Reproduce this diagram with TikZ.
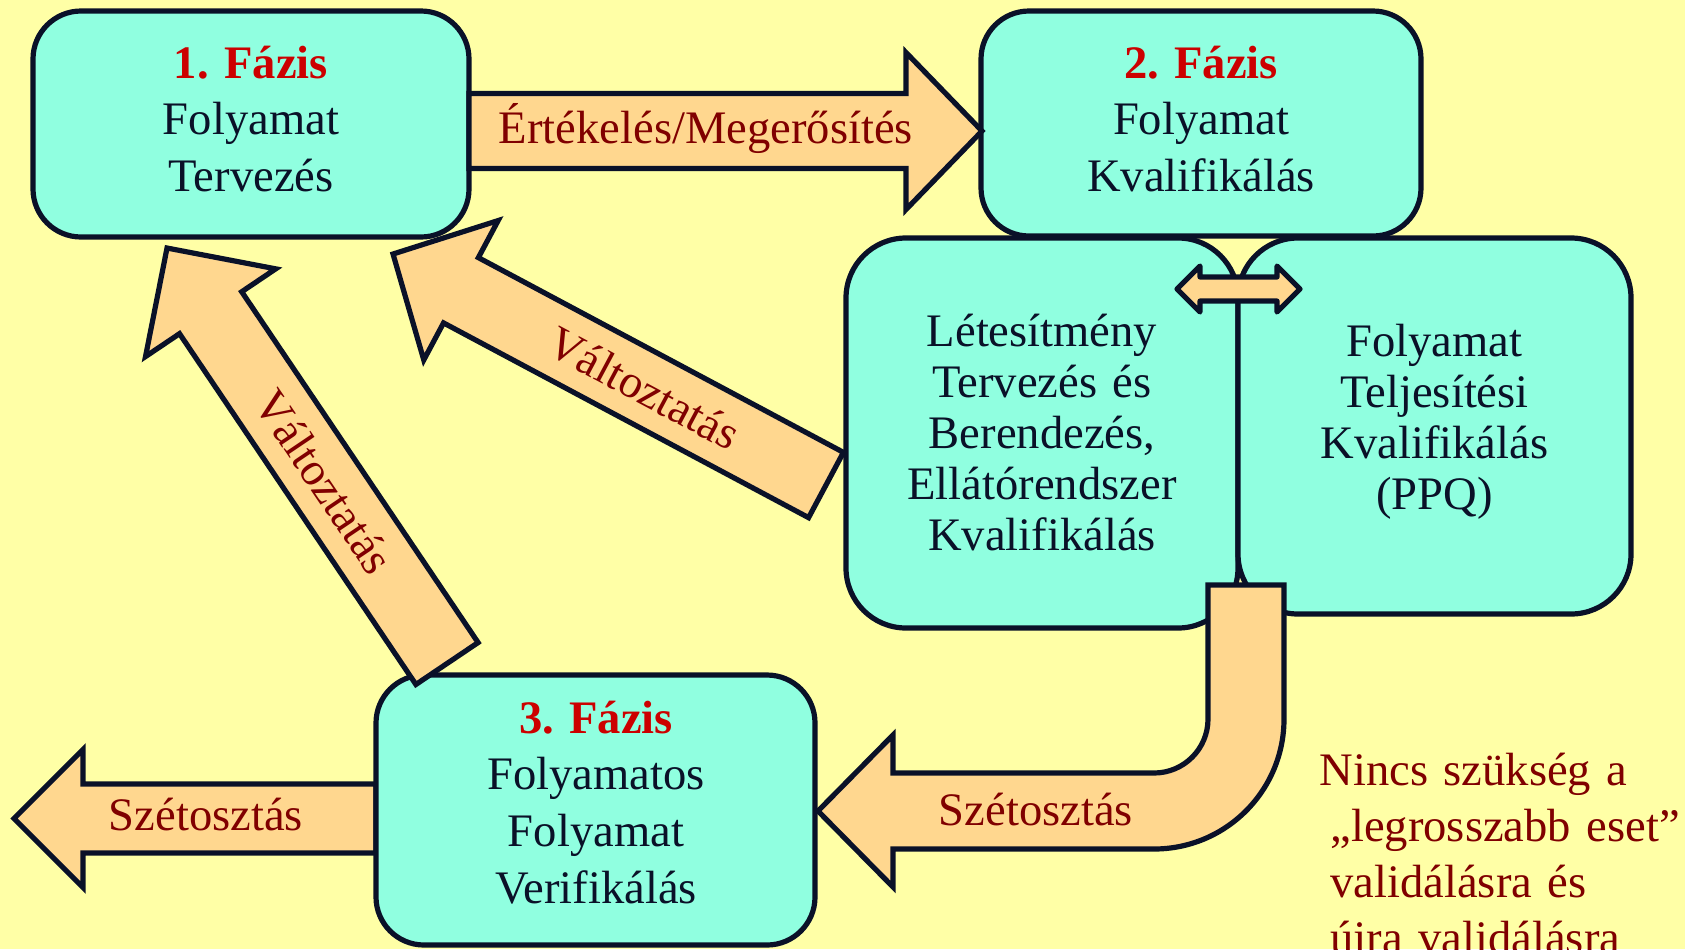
\documentclass[tikz,border=0pt]{standalone}
\usepackage{fontspec}
\setmainfont{Liberation Serif}
\usetikzlibrary{calc}

\definecolor{bgyellow}{RGB}{255,255,166}
\definecolor{boxaqua}{RGB}{144,255,224}
\definecolor{arroworange}{RGB}{255,215,143}
\definecolor{inkblue}{RGB}{10,17,40}
\definecolor{phasered}{RGB}{204,0,0}
\definecolor{labelred}{RGB}{128,0,0}

% block arrow from a named tail point to a named tip point
% #3 shaft width, #4 head width, #5 head length (picture units)
\newdimen\bax
\newdimen\bay
\newcommand\blockarrow[5]{%
  \pgfextractx{\bax}{\pgfpointdiff{\pgfpointanchor{#1}{center}}{\pgfpointanchor{#2}{center}}}%
  \pgfextracty{\bay}{\pgfpointdiff{\pgfpointanchor{#1}{center}}{\pgfpointanchor{#2}{center}}}%
  \pgfmathsetmacro\balen{2*veclen(\bax,\bay)}%
  \pgfmathsetmacro\baang{atan2(\bay,\bax)}%
  \begin{scope}[shift={(#1)},rotate=\baang]
    \draw[arrowbody] (0,{-#3/2}) -- ({\balen-#5},{-#3/2}) -- ({\balen-#5},{-#4/2})
      -- (\balen,0) -- ({\balen-#5},{#4/2}) -- ({\balen-#5},{#3/2}) -- (0,{#3/2}) -- cycle;
  \end{scope}}

\begin{document}
\begin{tikzpicture}[x=0.5pt,y=-0.5pt,
  box/.style={rectangle, draw=inkblue, fill=boxaqua, line width=2.6pt,
    rounded corners=#1, inner sep=0pt},
  box/.default=24pt,
  boxtext/.style={text=inkblue, font=\fontsize{23.3}{28.4}\selectfont,
    align=center, text width=200pt, anchor=base, inner sep=0pt},
  tighttext/.style={boxtext, font=\fontsize{23.3}{25.6}\selectfont},
  arrowlabel/.style={text=labelred, font=\fontsize{23.3}{28.2}\selectfont, inner sep=0pt},
  arrowbody/.style={draw=inkblue, fill=arroworange, line width=2.6pt, line join=miter},
  smallarrow/.style={draw=inkblue, fill=arroworange, line width=2.6pt, line join=round},
  notetext/.style={text=labelred, font=\fontsize{23.3}{28.1}\selectfont,
    align=left, text width=200pt, anchor=base west, inner sep=0pt}
]
\useasboundingbox (0,0) rectangle (1685,949);
\clip (0,0) rectangle (1685,949);
\fill[bgyellow] (0,0) rectangle (1685,949);

% qualification boxes under phase 2
\node[box=30pt, minimum width=196pt, minimum height=195pt] (iq) at (1042,433) {};
\node[box=30pt, minimum width=196.5pt, minimum height=188pt] (ppq) at (1434.5,426) {};

% phase boxes
\node[box, minimum width=220pt, minimum height=112.5pt] (ph2) at (1201,123.5) {};
\node[box, minimum width=218pt, minimum height=113pt] (ph1) at (251,124) {};

% distribution to the left (behind phase 3)
\coordinate (d1t) at (376,818.5);
\coordinate (d1h) at (14,818.5);
\blockarrow{d1t}{d1h}{69}{138}{69}

\node[box, minimum width=219.5pt, minimum height=135pt] (ph3) at (595.5,810) {};

% link between the two qualification boxes
\coordinate (dl) at (1177,289);
\coordinate (dr) at (1300,289);
\draw[smallarrow] (dl) -- ++(23,-23) -- ++(0,11) -- ++(77,0) -- ++(0,-11) -- (dr)
  -- ++(-23,23) -- ++(0,-11) -- ++(-77,0) -- ++(0,11) -- cycle;

% evaluation arrow phase 1 -> phase 2
\coordinate (a1t) at (469,131);
\coordinate (a1h) at (982,131);
\blockarrow{a1t}{a1h}{75}{157}{76}

% change arrows back to phase 1
\coordinate (a2t) at (826,485);
\coordinate (a2h) at (393,254);
\blockarrow{a2t}{a2h}{74}{158}{77}

\coordinate (a3t) at (447,663.5);
\coordinate (a3h) at (167,248);
\blockarrow{a3t}{a3h}{75}{157}{78}

% bent distribution arrow into phase 3
\coordinate (bt) at (818,811);
\draw[arrowbody] (1208,585) -- (1208,719) arc[start angle=0,end angle=-90,radius=27pt]
  -- (893,773) -- (893,735) -- (bt) -- (893,887) -- (893,849) -- (1154,849)
  arc[start angle=-90,end angle=0,radius=65pt] -- (1284,585) -- cycle;

% arrow labels
\node[arrowlabel, anchor=base] (l1) at (706,143) {Értékelés/Megerősítés};
\node[arrowlabel, rotate=-28.1] (l2) at ($(a2t)!0.42!(a2h)$) {Változtatás};
\node[arrowlabel, rotate=-56] (l3) at ($(a3t)!0.437!(a3h)$) {Változtatás};
\node[arrowlabel, anchor=base] (l4) at (206,830) {Szétosztás};
\node[arrowlabel, anchor=base] (l5) at (1036,825) {Szétosztás};

% box texts
\node[boxtext] (ph1t) at (251,78) {\textbf{\textcolor{phasered}{1.\ Fázis}}\\Folyamat\\Tervezés};
\node[boxtext] (ph2t) at (1201,78) {\textbf{\textcolor{phasered}{2.\ Fázis}}\\Folyamat\\Kvalifikálás};
\node[boxtext] (ph3t) at (596,733) {\textbf{\textcolor{phasered}{3.\ Fázis}}\\Folyamatos\\Folyamat\\Verifikálás};
\node[tighttext] (iqt) at (1042,346) {Létesítmény\\Tervezés és\\Berendezés,\\Ellátórendszer\\Kvalifikálás};
\node[tighttext] (ppqt) at (1434.5,356) {Folyamat\\Teljesítési\\Kvalifikálás\\(PPQ)};

% side note
\node[notetext] (note) at (1319,785) {Nincs szükség a\\\hspace*{5.5pt}„legrosszabb eset”\\\hspace*{5.5pt}validálásra és\\\hspace*{5.5pt}újra validálásra};
\end{tikzpicture}
\end{document}
